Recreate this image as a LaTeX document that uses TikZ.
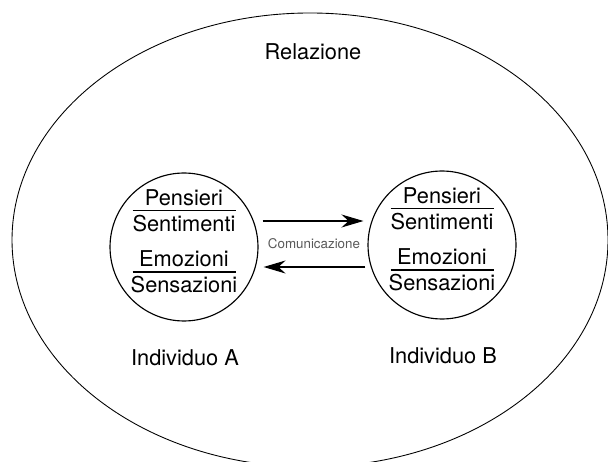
\documentclass[tikz,border=0pt]{standalone}
\usepackage{fontspec}
\setmainfont{TeX Gyre Heros}
\usepackage{tikz}
\usetikzlibrary{calc}
\usetikzlibrary{arrows.meta}
\tikzset{bubble/.style={draw, circle, line width=.65pt, minimum size=2.96cm, inner sep=0}}
\tikzset{voce/.style={anchor=base, inner sep=0, font=\fontsize{12.4}{14}\selectfont}}
\tikzset{freccia/.style={line width=.65pt, -{Stealth[length=.44cm, width=.26cm]}}}

\begin{document}
\begin{tikzpicture} [x=.02cm, y=-.02cm]
\useasboundingbox (0,0) rectangle (608,462);
\clip (0,0) rectangle (608,462);
\draw[line width=.5pt] (310,240) ellipse [x radius=298, y radius=227];
\node[voce, anchor=center] (rel) at (313,52) {Relazione};
\foreach \n/\x/\y in {A/184/247, B/442/245} {
  \node[bubble] (ind\n) at (\x,\y) {};
  \node[voce] (pens\n) at (\x,\y-41) {Pensieri};
  \node[voce] (sent\n) at (\x,\y-15) {Sentimenti};
  \node[voce] (emoz\n) at (\x,\y+20) {Emozioni};
  \node[voce] (sens\n) at (\x,\y+46) {Sensazioni};
  \draw[line width=.7pt] (\x-51.5,\y-36.5) -- (\x+51.5,\y-36.5);
  \draw[line width=.7pt] (\x-51.5,\y+25) -- (\x+51.5,\y+25);
  \node[voce, anchor=center] (nome\n) at (\x+1,\y+111) {Individuo \n};
}
\draw[freccia] ($(indA.east)+(4,-26)$) -- ($(indB.west)+(-4,-24)$);
\draw[freccia] ($(indB.west)+(-2,22)$) -- ($(indA.east)+(5,20)$);
\node[font=\fontsize{7.6}{9}\selectfont, text=black!65] (com) at (314,244) {Comunicazione};
\end{tikzpicture}
\end{document}
